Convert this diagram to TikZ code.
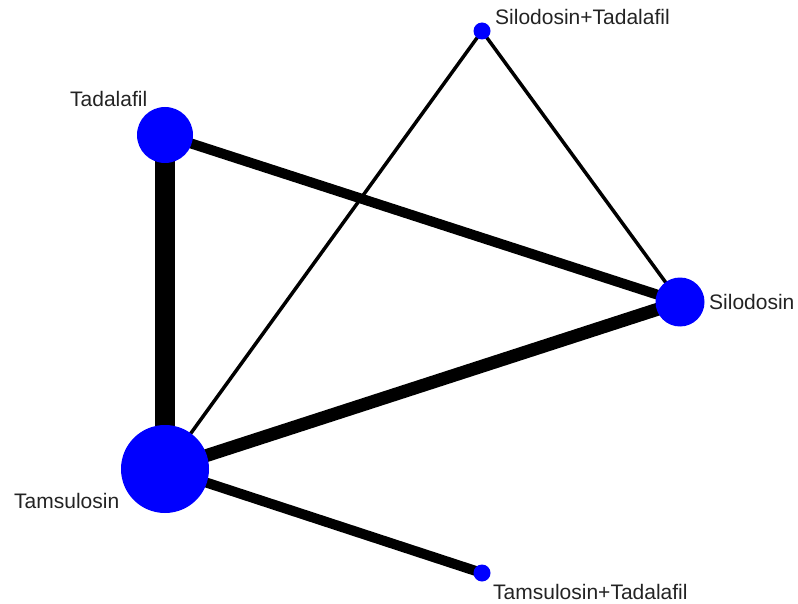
\documentclass[tikz,border=0pt]{standalone}
\usepackage{fontspec}
\setmainfont{Liberation Sans}
\usetikzlibrary{backgrounds}
\definecolor{nodeblue}{RGB}{0,0,255}
\definecolor{labelgray}{RGB}{35,35,35}
\tikzset{
  drug/.style={circle, fill=nodeblue, draw=none, inner sep=0pt, minimum size=#1},
  drugname/.style={anchor=west, inner sep=0pt, text=labelgray, font=\fontsize{21}{24}\selectfont},
  thinedge/.style={draw=black, line width=3.5pt},
  midedge/.style={draw=black, line width=10pt},
  thickedge/.style={draw=black, line width=13pt},
  heavyedge/.style={draw=black, line width=20pt},
}
\begin{document}
\begin{tikzpicture}[x=1pt, y=-1pt]
\useasboundingbox (0,0) rectangle (798,604);
% nodes
\node[drug=17pt] (st) at (482,31) {};
\node[drug=56pt] (tad) at (165,135) {};
\node[drug=49pt] (sil) at (680,302) {};
\node[drug=88pt] (tam) at (165,469) {};
\node[drug=17pt] (tt) at (482,573) {};
% labels
\node[drugname] (stl) at (495,17) {Silodosin+Tadalafil};
\node[drugname] (tadl) at (70,99) {Tadalafil};
\node[drugname] (sill) at (709,302) {Silodosin};
\node[drugname] (taml) at (14,501) {Tamsulosin};
\node[drugname] (ttl) at (493,592) {Tamsulosin+Tadalafil};
% edges
\begin{pgfonlayer}{background}
\draw[heavyedge] (tad.center) -- (tam.center);
\draw[midedge] (tad.center) -- (sil.center);
\draw[thickedge] (tam.center) -- (sil.center);
\draw[thinedge] (tam.center) -- (st.center);
\draw[thinedge] (st.center) -- (sil.center);
\draw[midedge] (tam.center) -- (tt.center);
\end{pgfonlayer}
\end{tikzpicture}
\end{document}
